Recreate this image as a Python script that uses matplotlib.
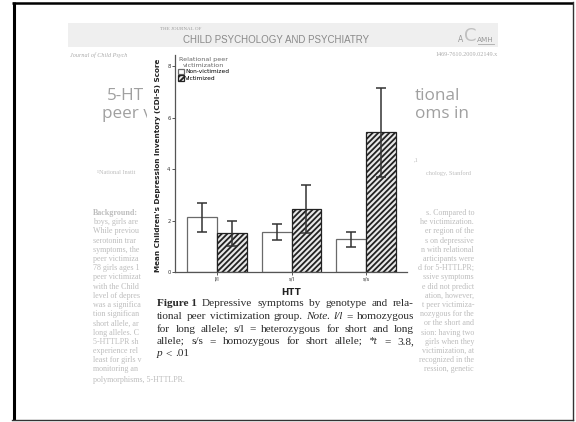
import matplotlib
matplotlib.use("Agg")
import numpy as np
import matplotlib.pyplot as plt
from matplotlib.patches import Rectangle

plt.rcParams['hatch.linewidth'] = 1.3

# ========== DATA ==========
genotypes = ["l/l", "s/l", "s/s"]
non_victimized = [2.13, 1.55, 1.28]
non_victimized_err = [0.56, 0.30, 0.29]
victimized = [1.50, 2.45, 5.42]
victimized_err = [0.50, 0.92, 1.74]
y_ticks = [0, 2, 4, 6, 8]

y_label = "Mean Children's Depression Inventory (CDI-S) Score"
x_label = "HTT"
legend_title = "Relational peer\nvictimization"
legend_labels = ["Non-victimized", "Victimized"]

# caption words: (text, weight, style)
caption_lines = [
    [("Figure 1", "bold", "normal"), ("Depressive", "normal", "normal"), ("symptoms", "normal", "normal"),
     ("by", "normal", "normal"), ("genotype", "normal", "normal"), ("and", "normal", "normal"),
     ("rela-", "normal", "normal")],
    [("tional", "normal", "normal"), ("peer", "normal", "normal"), ("victimization", "normal", "normal"),
     ("group.", "normal", "normal"), ("Note.", "normal", "italic"), ("l/l", "normal", "italic"),
     ("=", "normal", "normal"), ("homozygous", "normal", "normal")],
    [("for", "normal", "normal"), ("long", "normal", "normal"), ("allele;", "normal", "normal"),
     ("s/l", "normal", "normal"), ("=", "normal", "normal"), ("heterozygous", "normal", "normal"),
     ("for", "normal", "normal"), ("short", "normal", "normal"), ("and", "normal", "normal"),
     ("long", "normal", "normal")],
    [("allele;", "normal", "normal"), ("s/s", "normal", "normal"), ("=", "normal", "normal"),
     ("homozygous", "normal", "normal"), ("for", "normal", "normal"), ("short", "normal", "normal"),
     ("allele;", "normal", "normal"), ("*t", "normal", "italic"), ("=", "normal", "normal"),
     ("3.8,", "normal", "normal")],
    [("p", "normal", "italic"), ("<", "normal", "normal"), (".01", "normal", "normal")],
]

# faded journal page text, only the parts that show round the figure
left_col = ["Background:", "boys, girls are", "While previou", "serotonin trar",
            "symptoms, the", "peer victimiza", "78 girls ages 1", "peer victimizat",
            "with the Child", "level of depres", "was a significa", "tion significan",
            "short allele, ar", "long alleles. C", "5-HTTLPR sh", "experience rel",
            "least for girls v", "monitoring an"]
right_col = ["s. Compared to", "he victimization.", "er region of the", "s on depressive",
             "n with relational", "articipants were", "d for 5-HTTLPR;", "ssive symptoms",
             "e did not predict", "ation, however,", "t peer victimiza-", "nozygous for the",
             "or the short and", "sion: having two", "girls when they", "victimization, at",
             "recognized in the", "ression, genetic"]

W, H = 576, 422
fig = plt.figure(figsize=(W / 100, H / 100), dpi=100)

# ========== SLIDE BACKGROUND (pixel coords) ==========
bg = fig.add_axes([0, 0, 1, 1])
bg.set_xlim(0, W)
bg.set_ylim(H, 0)
bg.axis('off')

faded = '#bdbdbd'
serif = 'Liberation Serif'
bg.add_patch(Rectangle((68, 23), 430, 24, fc='#efefef', ec='none', zorder=1))
bg.text(160, 29, "THE JOURNAL OF", fontsize=3.6, color='#999999', family=serif, va='center', zorder=2)
bg.text(183, 40, "CHILD PSYCHOLOGY AND PSYCHIATRY", fontsize=7.0, color='#8a8a8a',
        family='Liberation Sans', va='center', zorder=2)
bg.text(461, 40, "A", fontsize=5.5, color='#999999', va='center', ha='center', zorder=2)
bg.text(470, 36, "C", fontsize=13, color='#c0c0c0', va='center', ha='center', zorder=2)
bg.text(485.5, 40, "AMH", fontsize=5.2, color='#999999', va='center', ha='center', zorder=2)
bg.plot([478, 494], [44, 44], color='#aaaaaa', lw=0.6, zorder=2)
bg.text(70, 55, "Journal of Child Psych", fontsize=4.4, color='#aaaaaa',
        family=serif, style='italic', va='center', zorder=2)
bg.text(498, 55, "1469-7610.2009.02149.x", fontsize=4.4, color='#aaaaaa',
        family=serif, va='center', ha='right', zorder=2)

title_kw = dict(fontsize=12.3, color='#a0a0a0', family='Open Sans', va='center', zorder=2)
bg.text(107, 96, "5-HT", **title_kw)
bg.text(102, 114, "peer v", **title_kw)
bg.text(415, 96, "tional", **title_kw)
bg.text(415, 114, "oms in", **title_kw)

bg.text(97, 172, "\u00b9National Instit", fontsize=4.5, color=faded, family=serif, va='center', zorder=2)
bg.text(471, 173, "chology, Stanford", fontsize=4.5, color=faded, family=serif, va='center', ha='right', zorder=2)
bg.text(414, 160, ",1", fontsize=4.5, color=faded, family=serif, va='center', zorder=2)

for i, s in enumerate(left_col):
    bg.text(93, 213 + 9.2 * i, s, fontsize=5.8, color=faded, family=serif, va='center',
            fontweight='bold' if i == 0 else 'normal', zorder=2)
for i, s in enumerate(right_col):
    bg.text(474, 213 + 9.2 * i, s, fontsize=5.8, color=faded, family=serif, va='center',
            ha='right', zorder=2)
bg.text(93, 380, "polymorphisms, 5-HTTLPR.", fontsize=5.8, color=faded, family=serif,
        va='center', zorder=2)

# white figure panel
bg.add_patch(Rectangle((147, 47), 266, 325, fc='white', ec='none', zorder=3))

# frame
bg.plot([13.5, 13.5], [2, 420], color='black', lw=2.2, zorder=6, solid_capstyle='butt')
bg.plot([12, 573], [3, 3], color='black', lw=1.8, zorder=6, solid_capstyle='butt')
bg.plot([572.5, 572.5], [2, 420], color='#333333', lw=1.0, zorder=6)
bg.plot([12, 573], [419.5, 419.5], color='#333333', lw=1.0, zorder=6)

# ========== CAPTION (justified) ==========
renderer = fig.canvas.get_renderer()
cap_x0, cap_x1 = 157, 414
cap_y = [304, 316.5, 329, 341.5, 354]
for li, words in enumerate(caption_lines):
    texts = []
    for w, wt, st in words:
        t = bg.text(0, cap_y[li], w, fontsize=8.1, family=serif, fontweight=wt,
                    style=st, color='#2a2a2a', va='center', zorder=4)
        texts.append(t)
    widths = [t.get_window_extent(renderer).width for t in texts]
    if li < len(caption_lines) - 1:
        gap = (cap_x1 - cap_x0 - sum(widths)) / (len(texts) - 1)
    else:
        gap = 3.2
    xpos = cap_x0
    for t, wd in zip(texts, widths):
        t.set_x(xpos)
        xpos += wd + gap

# ========== BAR CHART ==========
ax = fig.add_axes([175 / W, 1 - 272 / H, 232 / W, 217 / H], zorder=2)
ax.patch.set_alpha(0)
x = np.arange(len(genotypes))
bw = 0.4
b1 = ax.bar(x - bw / 2, non_victimized, bw, color='white', edgecolor='#6a6a6a', linewidth=0.9,
            label=legend_labels[0])
b2 = ax.bar(x + bw / 2, victimized, bw, color='#e8e8e8', edgecolor='#222222', linewidth=0.9,
            hatch='//////', label=legend_labels[1])
ax.errorbar(x - bw / 2, non_victimized, yerr=non_victimized_err, fmt='none', ecolor='#333333',
            elinewidth=1.1, capsize=3.4, capthick=1.1)
ax.errorbar(x + bw / 2, victimized, yerr=victimized_err, fmt='none', ecolor='#333333',
            elinewidth=1.1, capsize=3.4, capthick=1.1)

ax.set_xlim(-0.565, 2.55)
ax.set_ylim(0, 8.43)
ax.set_yticks(y_ticks)
ax.set_xticks(x)
ax.set_xticklabels(genotypes)
ax.tick_params(labelsize=3.8, length=2.2, width=0.7, color='#555555', pad=1.0, labelcolor='#333333')
for s in ['top', 'right']:
    ax.spines[s].set_visible(False)
for s in ['left', 'bottom']:
    ax.spines[s].set_color('#555555')
    ax.spines[s].set_linewidth(0.9)

ax.set_ylabel(y_label, fontsize=5.2, fontweight='bold', color='#222222')
ax.yaxis.set_label_coords(-0.062, 0.49)
ax.set_xlabel(x_label, fontsize=6.3, fontweight='bold', color='#222222')
ax.xaxis.set_label_coords(0.5, -0.072)

leg = ax.legend(handles=[b1, b2], title=legend_title, loc='upper left', bbox_to_anchor=(0.012, 0.99),
                frameon=False, fontsize=4.2, title_fontsize=4.6, handlelength=1.0, handleheight=1.0,
                handletextpad=0.25, borderpad=0, labelspacing=0.15, borderaxespad=0)
leg.get_title().set_color('#666666')
leg.get_title().set_multialignment('center')

plt.savefig("out.png", dpi=100)
